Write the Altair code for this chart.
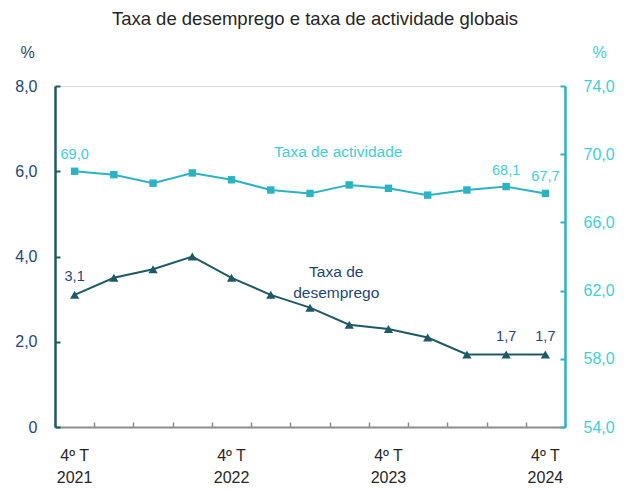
import altair as alt
import pandas as pd

# ---- data -------------------------------------------------------------
quarters = ["4º T", "1º T", "2º T", "3º T", "4º T", "1º T", "2º T", "3º T",
            "4º T", "1º T", "2º T", "3º T", "4º T"]
years = ["2021", "2022", "2022", "2022", "2022", "2023", "2023", "2023",
         "2023", "2024", "2024", "2024", "2024"]
unemployment = [3.1, 3.5, 3.7, 4.0, 3.5, 3.1, 2.8, 2.4, 2.3, 2.1, 1.7, 1.7, 1.7]
activity = [69.0, 68.8, 68.3, 68.9, 68.5, 67.9, 67.7, 68.2, 68.0, 67.6, 67.9, 68.1, 67.7]
labelled = [0, 11, 12]
left_ticks = [0, 2, 4, 6, 8]
right_ticks = [54, 58, 62, 66, 70, 74]
ann_text = ["Taxa de actividade", "Taxa de\ndesemprego"]
ann_index = [7, 7]
ann_value = [70.1, 3.63]
title_text = "Taxa de desemprego e taxa de actividade globais"

cats = [f"{q} {y}" for q, y in zip(quarters, years)]
df = pd.DataFrame({"period": cats, "u": unemployment, "a": activity, "i": list(range(len(cats)))})
df_lab = df[df["i"].isin(labelled)]
df_ann_a = pd.DataFrame({"period": [cats[ann_index[0]]], "v": [ann_value[0]], "t": [ann_text[0]]})
df_ann_u = pd.DataFrame({"period": [cats[ann_index[1]]], "v": [ann_value[1]], "t": [ann_text[1]]})

# ---- style ------------------------------------------------------------
FONT = "Liberation Sans"
NAVY = "#1F4677"
TEAL = "#1E5A66"
CYAN = "#2BB3C3"
TURQ = "#3FCFD4"
GRAY = "#8C8C8C"
TXT = "#262626"

xs = alt.Scale(type="band", domain=cats, paddingInner=0, paddingOuter=0)
ysl = alt.Scale(domain=[0, 8], nice=False, zero=True)
ysr = alt.Scale(domain=[54, 74], nice=False, zero=False)

num_expr = "datum.value == 0 ? '0' : replace(format(datum.value, '.1f'), '.', ',')"

x_main = alt.Axis(orient="bottom", title=None, domain=True, domainColor=GRAY, domainWidth=2,
                  ticks=False, tickSize=0, grid=False, labelAngle=0,
                  labelExpr="slice(datum.value, 0, 2) == '4º' ? [slice(datum.value, 0, 4), slice(datum.value, 5)] : ''",
                  labelFont=FONT, labelFontSize=16, labelColor=TXT, labelPadding=20,
                  labelBaseline="top", labelLineHeight=22, labelOverlap=False, labelAlign="center")
x_ticks = alt.Axis(orient="bottom", title=None, domain=False, labels=False, ticks=True,
                   tickBand="extent", tickSize=5, tickColor=GRAY, tickWidth=1.5, offset=-5, grid=False)

yl_main = alt.Axis(orient="left", values=left_ticks, domain=True, domainColor=TEAL, domainWidth=2.5,
                   ticks=False, tickSize=0, grid=False, labelExpr=num_expr, labelFont=FONT,
                   labelFontSize=16, labelColor=NAVY, labelPadding=18,
                   title="%", titleAngle=0, titleFont=FONT, titleFontSize=16, titleFontWeight="normal",
                   titleColor=NAVY, titleX=-28, titleY=-34, titleAlign="center", titleBaseline="middle")
yl_ticks = alt.Axis(orient="left", values=left_ticks, domain=False, labels=False, ticks=True,
                    tickSize=5, tickColor=TEAL, tickWidth=2, offset=-5, grid=False, title=None)
yr_main = alt.Axis(orient="right", values=right_ticks, domain=True, domainColor=CYAN, domainWidth=2.5,
                   ticks=False, tickSize=0, grid=False, labelExpr=num_expr, labelFont=FONT,
                   labelFontSize=16, labelColor=TURQ, labelPadding=18,
                   title="%", titleAngle=0, titleFont=FONT, titleFontSize=16, titleFontWeight="normal",
                   titleColor=TURQ, titleX=34, titleY=-34, titleAlign="center", titleBaseline="middle")
yr_ticks = alt.Axis(orient="right", values=right_ticks, domain=False, labels=False, ticks=True,
                    tickSize=5, tickColor=CYAN, tickWidth=2, offset=-5, grid=False, title=None)

base = alt.Chart(df)

u_line = base.mark_line(color=TEAL, strokeWidth=2,
                        point=alt.OverlayMarkDef(shape="triangle-up", size=85, color=TEAL,
                                                 filled=True, opacity=1)).encode(
    x=alt.X("period:N", scale=xs, axis=x_main),
    y=alt.Y("u:Q", scale=ysl, axis=yl_main),
)

a_line = base.mark_line(color=CYAN, strokeWidth=2,
                        point=alt.OverlayMarkDef(shape="square", size=55, color=CYAN,
                                                 filled=True, opacity=1)).encode(
    x=alt.X("period:N", scale=xs, axis=None),
    y=alt.Y("a:Q", scale=ysr, axis=yr_main),
)

u_lab = alt.Chart(df_lab).transform_calculate(
    lab="replace(format(datum.u, '.1f'), '.', ',')"
).mark_text(font=FONT, fontSize=14.5, color=NAVY, dy=-18, baseline="middle", align="center").encode(
    x=alt.X("period:N", scale=xs, axis=x_ticks),
    y=alt.Y("u:Q", scale=ysl, axis=yl_ticks),
    text="lab:N",
)

a_lab = alt.Chart(df_lab).transform_calculate(
    lab="replace(format(datum.a, '.1f'), '.', ',')"
).mark_text(font=FONT, fontSize=14.5, color=TURQ, dy=-16, baseline="middle", align="center").encode(
    x=alt.X("period:N", scale=xs, axis=None),
    y=alt.Y("a:Q", scale=ysr, axis=yr_ticks),
    text="lab:N",
)

a_ann = alt.Chart(df_ann_a).mark_text(font=FONT, fontSize=15.5, color=TURQ, dx=-11,
                                      baseline="middle", align="center").encode(
    x=alt.X("period:N", scale=xs, axis=None),
    y=alt.Y("v:Q", scale=ysr, axis=None),
    text="t:N",
)

u_ann = alt.Chart(df_ann_u).mark_text(font=FONT, fontSize=15.5, color=NAVY, dx=-13, lineBreak="\n",
                                      lineHeight=21, baseline="middle", align="center").encode(
    x=alt.X("period:N", scale=xs, axis=None),
    y=alt.Y("v:Q", scale=ysl, axis=None),
    text="t:N",
)

chart = alt.layer(u_line, a_line, u_lab, a_lab, a_ann, u_ann).resolve_scale(
    x="independent", y="independent"
).properties(
    width=510, height=341,
    title=alt.TitleParams(text=title_text, font=FONT, fontSize=18.5, fontWeight="normal",
                          color=TXT, anchor="middle", offset=16, dx=5),
    autosize=alt.AutoSizeParams(type="none"),
    padding={"left": 47, "top": 78, "right": 56, "bottom": 63},
).configure_view(stroke=None).configure(font=FONT)

chart.save("out.html", embed_options={"renderer": "svg", "actions": False})
